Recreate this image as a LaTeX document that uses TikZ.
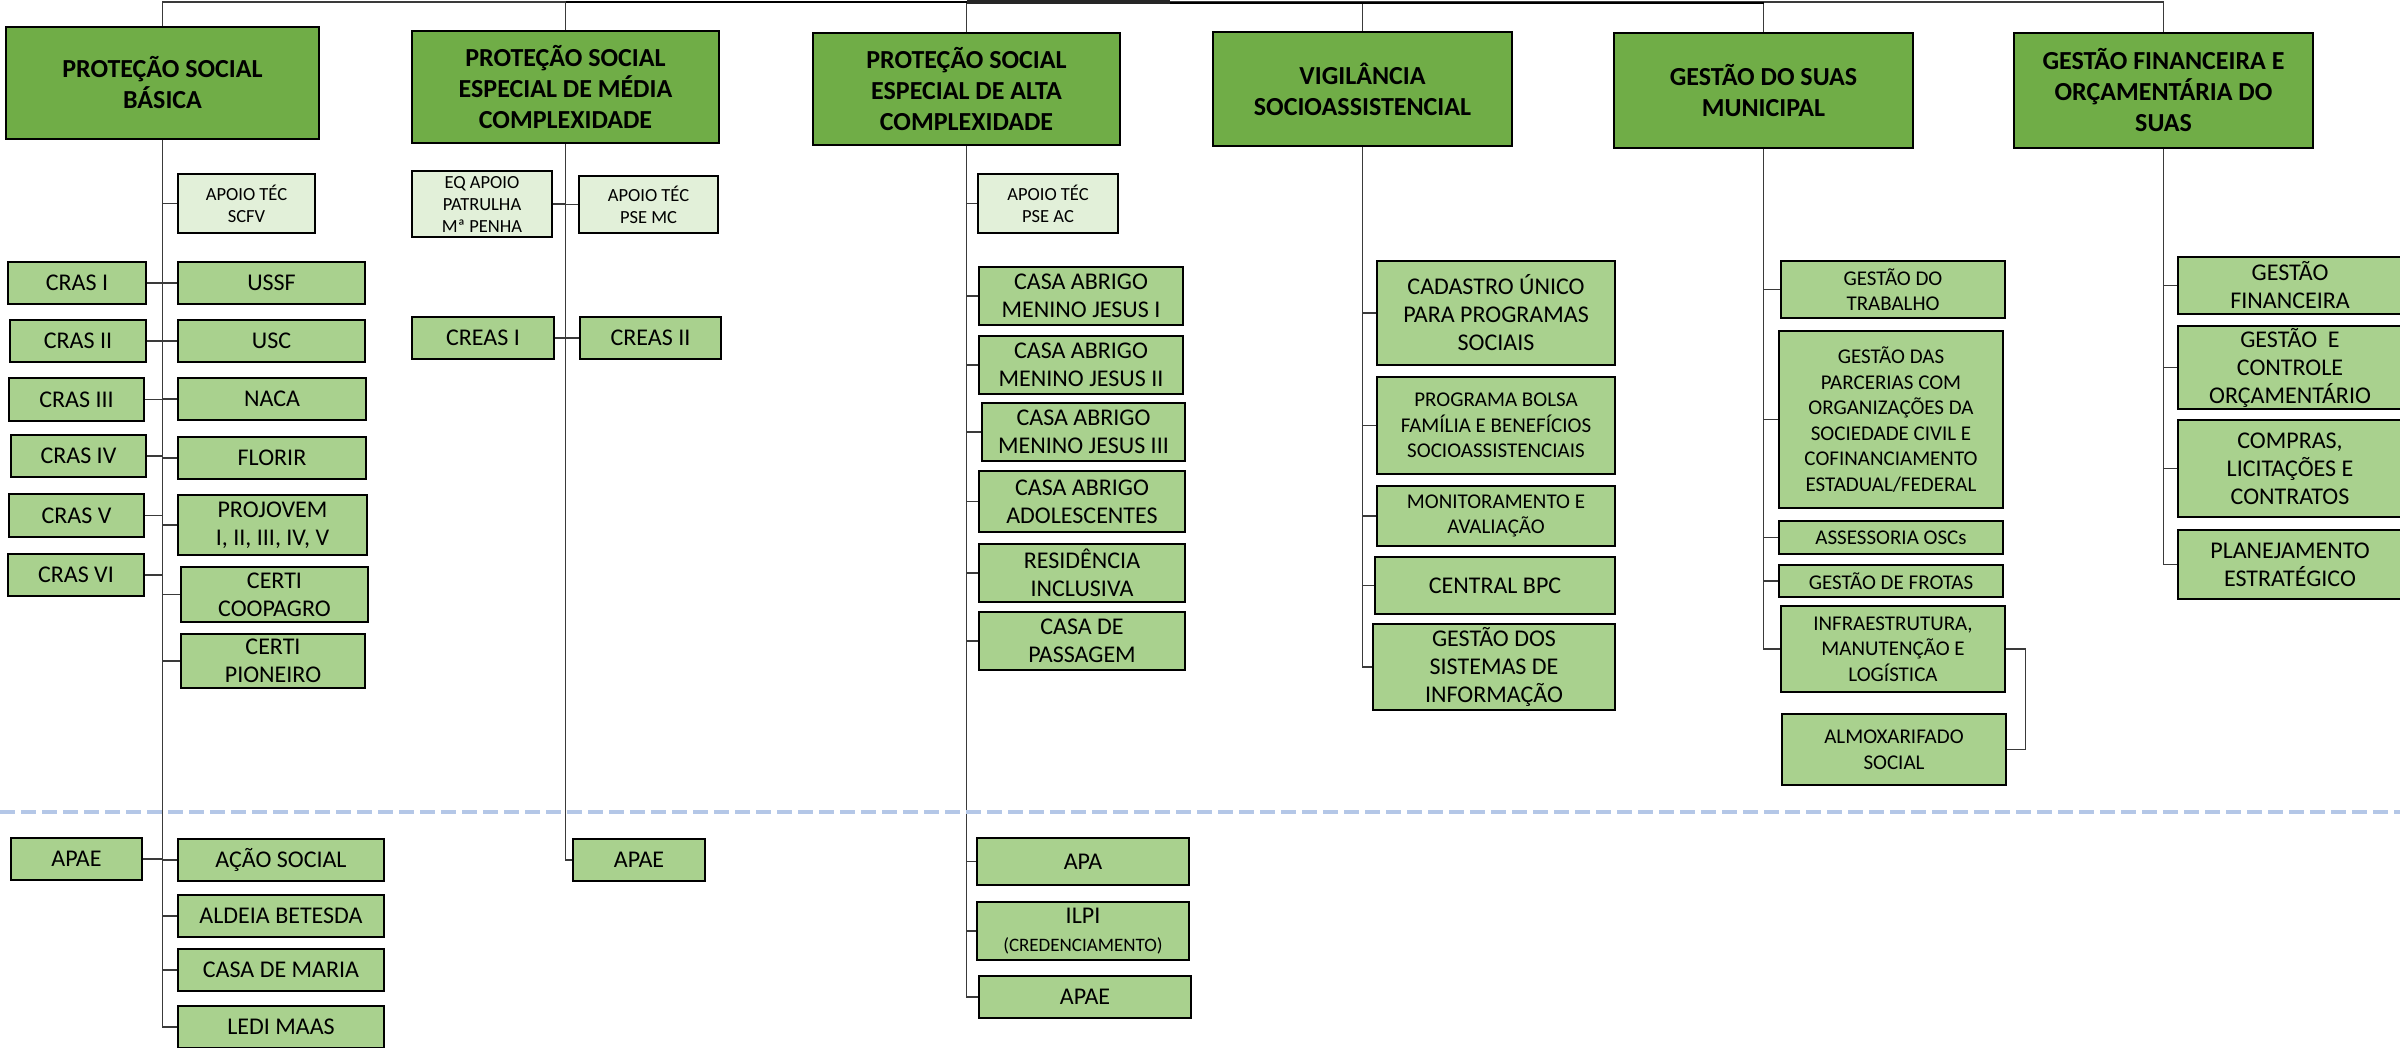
\documentclass[tikz,border=0pt]{standalone}
\usepackage{fontspec}
\setmainfont{Carlito}
\definecolor{headg}{HTML}{70AD47}
\definecolor{childg}{HTML}{A9D18E}
\definecolor{lightg}{HTML}{E2F0D9}
\definecolor{dashc}{HTML}{B4C7E7}
\definecolor{linec}{HTML}{3A3A3A}
\newcommand{\bx}[7]{\node[#1, minimum width={(#5-#3)*1pt}, minimum height={(#6-#4)*1pt}] (#2) at ({(#3+#5)/2},{(#4+#6)/2}) {#7};}
\tikzset{
  box/.style={draw=black, line width=2.6pt, inner sep=0pt, align=center, text=black},
  head/.style={box, fill=headg, font=\fontsize{26}{31}\selectfont\bfseries},
  chl/.style={box, fill=childg, font=\fontsize{24}{28}\selectfont},
  chs/.style={box, fill=childg, font=\fontsize{21}{25.5}\selectfont},
  lgt/.style={box, fill=lightg, font=\fontsize{18.5}{22}\selectfont},
  conn/.style={draw=linec, line width=1.5pt},
}
\begin{document}
\begin{tikzpicture}[x=1pt,y=-1pt]
\useasboundingbox (0,0) rectangle (2400,1047);
% heads
\bx{head}{h1}{6}{27}{319}{139}{PROTEÇÃO SOCIAL\\BÁSICA}
\bx{head}{h2}{412}{31}{719}{143}{PROTEÇÃO SOCIAL\\ESPECIAL DE MÉDIA\\COMPLEXIDADE}
\bx{head}{h3}{813}{33}{1120}{145}{PROTEÇÃO SOCIAL\\ESPECIAL DE ALTA\\COMPLEXIDADE}
\bx{head}{h4}{1213}{32}{1512}{146}{VIGILÂNCIA\\SOCIOASSISTENCIAL}
\bx{head}{h5}{1614}{33}{1913}{148}{GESTÃO DO SUAS\\MUNICIPAL}
\bx{head}{h6}{2014}{33}{2313}{148}{GESTÃO FINANCEIRA E\\ORÇAMENTÁRIA DO\\SUAS}
% light boxes
\bx{lgt}{apscfv}{178}{174}{315}{233}{APOIO TÉC\\SCFV}
\bx{lgt}{eqap}{412}{171}{552}{237}{EQ APOIO\\PATRULHA\\Mª PENHA}
\bx{lgt}{apmc}{579}{176}{718}{233}{APOIO TÉC\\PSE MC}
\bx{lgt}{apac}{978}{174}{1118}{233}{APOIO TÉC\\PSE AC}
% column 1
\bx{chl}{cras1}{8}{262}{146}{304}{CRAS I}
\bx{chl}{ussf}{178}{262}{365}{304}{USSF}
\bx{chl}{cras2}{10}{320}{146}{362}{CRAS II}
\bx{chl}{usc}{178}{320}{365}{362}{USC}
\bx{chl}{cras3}{9}{378}{144}{421}{CRAS III}
\bx{chl}{naca}{178}{378}{366}{420}{NACA}
\bx{chl}{cras4}{11}{435}{146}{477}{CRAS IV}
\bx{chl}{florir}{178}{437}{366}{479}{FLORIR}
\bx{chl}{cras5}{9}{494}{144}{537}{CRAS V}
\bx{chl}{proj}{178}{495}{367}{555}{PROJOVEM\\I, II, III, IV, V}
\bx{chl}{cras6}{8}{554}{144}{596}{CRAS VI}
\bx{chl}{coop}{181}{567}{368}{622}{CERTI\\COOPAGRO}
\bx{chl}{pion}{181}{634}{365}{688}{CERTI\\PIONEIRO}
\bx{chl}{apae1}{11}{838}{142}{880}{APAE}
\bx{chl}{acao}{178}{839}{384}{881}{AÇÃO SOCIAL}
\bx{chl}{aldeia}{178}{895}{384}{937}{ALDEIA BETESDA}
\bx{chl}{maria}{178}{949}{384}{991}{CASA DE MARIA}
\bx{chl}{ledi}{178}{1006}{384}{1048}{LEDI MAAS}
% column 2
\bx{chl}{creas1}{412}{317}{554}{359}{CREAS I}
\bx{chl}{creas2}{580}{317}{721}{359}{CREAS II}
\bx{chl}{apae2}{573}{839}{705}{881}{APAE}
% column 3
\bx{chl}{cj1}{979}{267}{1183}{325}{CASA ABRIGO\\MENINO JESUS I}
\bx{chl}{cj2}{979}{336}{1183}{394}{CASA ABRIGO\\MENINO JESUS II}
\bx{chl}{cj3}{982}{403}{1185}{461}{CASA ABRIGO\\MENINO JESUS III}
\bx{chl}{adol}{979}{471}{1185}{532}{CASA ABRIGO\\ADOLESCENTES}
\bx{chl}{resid}{979}{544}{1185}{602}{RESIDÊNCIA\\INCLUSIVA}
\bx{chl}{pass}{979}{612}{1185}{670}{CASA DE\\PASSAGEM}
\bx{chl}{apa}{977}{838}{1189}{885}{APA}
\bx{chl}{ilpi}{977}{902}{1189}{960}{ILPI\\{\fontsize{19}{22}\selectfont (CREDENCIAMENTO)}}
\bx{chl}{apae3}{979}{976}{1191}{1018}{APAE}
% column 4
\bx{chl}{cad}{1377}{261}{1615}{365}{CADASTRO ÚNICO\\PARA PROGRAMAS\\SOCIAIS}
\bx{chs}{bolsa}{1377}{377}{1615}{474}{PROGRAMA BOLSA\\FAMÍLIA E BENEFÍCIOS\\SOCIOASSISTENCIAIS}
\bx{chs}{monit}{1377}{486}{1615}{546}{MONITORAMENTO E\\AVALIAÇÃO}
\bx{chl}{bpc}{1375}{557}{1615}{614}{CENTRAL BPC}
\bx{chl}{gsi}{1373}{624}{1615}{710}{GESTÃO DOS\\SISTEMAS DE\\INFORMAÇÃO}
% column 5
\bx{chs}{gtrab}{1781}{261}{2005}{318}{GESTÃO DO\\TRABALHO}
\bx{chs}{gparc}{1779}{331}{2003}{508}{GESTÃO DAS\\PARCERIAS COM\\ORGANIZAÇÕES DA\\SOCIEDADE CIVIL E\\COFINANCIAMENTO\\ESTADUAL/FEDERAL}
\bx{chs}{asses}{1779}{521}{2003}{554}{ASSESSORIA OSCs}
\bx{chs}{frotas}{1779}{565}{2003}{597}{GESTÃO DE FROTAS}
\bx{chs}{infra}{1781}{606}{2005}{692}{INFRAESTRUTURA,\\MANUTENÇÃO E\\LOGÍSTICA}
\bx{chs}{almox}{1782}{714}{2006}{785}{ALMOXARIFADO\\SOCIAL}
% column 6
\bx{chl}{gfin}{2178}{257}{2402}{314}{GESTÃO\\FINANCEIRA}
\bx{chl}{gcont}{2178}{326}{2402}{409}{GESTÃO~~E\\CONTROLE\\ORÇAMENTÁRIO}
\bx{chl}{compras}{2178}{420}{2402}{517}{COMPRAS,\\LICITAÇÕES E\\CONTRATOS}
\bx{chl}{plan}{2178}{530}{2402}{599}{PLANEJAMENTO\\ESTRATÉGICO}
% top connector
\coordinate (topy) at (0,2);
\coordinate (topz) at (0,3);
\coordinate (blk) at (1170,0);
\draw[conn] (h1.north) -- (h1.north |- topy) -- (h6.north |- topy) -- (h6.north);
\foreach \h in {h2,h3,h4,h5} \draw[conn] (\h.north) -- (\h.north |- topy);
\draw[black, line width=2.5pt] (h2.north |- topy) -- (h3.north |- topy);
\draw[black, line width=2.5pt] (blk |- topz) -- (h5.north |- topz);
\fill[black!85] (h3.north |- blk) rectangle (1170,4);
% trunks
\draw[conn] (h1.south) |- (ledi.west);
\draw[conn] (h2.south) |- (apae2.west);
\draw[conn] (h3.south) |- (apae3.west);
\draw[conn] (h4.south) |- (gsi.west);
\draw[conn] (h5.south) |- (infra.west);
\draw[conn] (h6.south) |- (plan.west);
% branches
\foreach \c in {apscfv,ussf,usc,naca,florir,proj,coop,pion,acao,aldeia,maria}
  \draw[conn] (h1.south |- \c.west) -- (\c.west);
\foreach \c in {cras1,cras2,cras3,cras4,cras5,cras6,apae1}
  \draw[conn] (\c.east) -- (h1.south |- \c.east);
\foreach \c in {eqap,creas1}
  \draw[conn] (\c.east) -- (h2.south |- \c.east);
\foreach \c in {apmc,creas2}
  \draw[conn] (h2.south |- \c.west) -- (\c.west);
\foreach \c in {apac,cj1,cj2,cj3,adol,resid,pass,apa,ilpi}
  \draw[conn] (h3.south |- \c.west) -- (\c.west);
\foreach \c in {cad,bolsa,monit,bpc}
  \draw[conn] (h4.south |- \c.west) -- (\c.west);
\foreach \c in {gtrab,gparc,asses,frotas}
  \draw[conn] (h5.south |- \c.west) -- (\c.west);
\foreach \c in {gfin,gcont,compras}
  \draw[conn] (h6.south |- \c.west) -- (\c.west);
\draw[conn] (infra.east) -- ++(19,0) |- (almox.east);
% separator
\coordinate (dl) at (0,812);
\coordinate (dr) at (2400,812);
\draw[dashc, line width=4pt, dash pattern=on 15pt off 6pt] (dl) -- (dr);
\end{tikzpicture}
\end{document}
